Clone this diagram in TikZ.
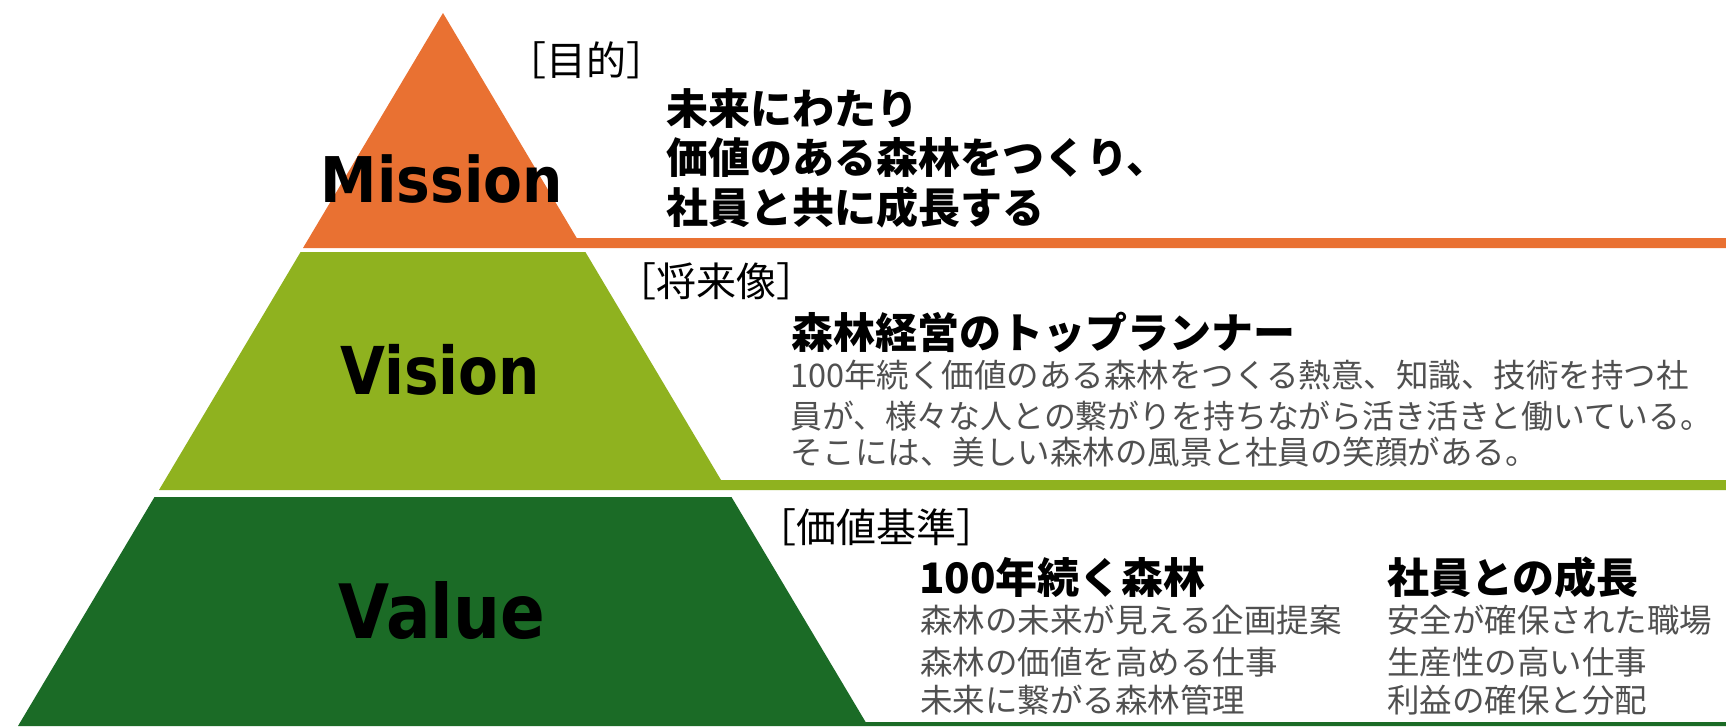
\documentclass[tikz,border=0pt]{standalone}
\usepackage{fontspec}
\usepackage{graphicx}
\newfontfamily\jpfont{Noto Sans CJK JP}
\newfontfamily\latfont{DejaVu Sans}
\definecolor{orng}{HTML}{E97132}
\definecolor{lgreen}{HTML}{8FB21F}
\definecolor{dgreen}{HTML}{1B6B26}
\definecolor{bodygray}{HTML}{505050}
\tikzset{
  tier/.style={font=\latfont\bfseries, anchor=base, inner sep=0pt},
  tag/.style={font=\jpfont\fontsize{40}{40}\selectfont, anchor=west, inner sep=0pt},
  lead/.style={font=\jpfont\bfseries\fontsize{42}{42}\selectfont, anchor=west, inner sep=0pt},
  body/.style={font=\jpfont\fontsize{32.5}{32.5}\selectfont, text=bodygray, anchor=west, inner sep=0pt},
}
\begin{document}
\begin{tikzpicture}[x=1pt,y=-1pt]
\useasboundingbox (0,0) rectangle (1726,726);
\fill[white] (0,0) rectangle (1726,726);
% pyramid tiers with their rules
\fill[orng] (443,13) -- (576.7,238) -- (1726,238) -- (1726,248) -- (303,248) -- cycle;
\fill[lgreen] (300.6,252) -- (585.4,252) -- (721,480) -- (1726,480) -- (1726,490) -- (159,490) -- cycle;
\fill[dgreen] (154.5,497) -- (731.5,497) -- (865.6,722) -- (1726,722) -- (1726,726) -- (18,726) -- cycle;
% tier names
\node[tier] (mission) at (442,202) {\fontsize{63}{63}\selectfont\scalebox{0.9}[1]{Mission}};
\node[tier] (vision) at (440,394) {\fontsize{66}{66}\selectfont\scalebox{0.88}[1]{Vision}};
\node[tier] (value) at (442,638) {\fontsize{75}{75}\selectfont\scalebox{0.88}[1]{Value}};
% Mission
\node[tag] (tagm) at (506,60) {［目的］};
\node[lead] (m1) at (666,109) {未来にわたり};
\node[lead] (m2) at (666,157) {価値のある森林をつくり、};
\node[lead] (m3) at (666,207) {社員と共に成長する};
% Vision
\node[tag] (tagv) at (616,281) {［将来像］};
\node[lead] (vh) at (791,332) {森林経営のトップランナー};
\node[body] (v1) at (790,375) {100年続く価値のある森林をつくる熱意、知識、技術を持つ社};
\node[body] (v2) at (790,416) {\scalebox{0.98}[1]{員が、様々な人との繋がりを持ちながら活き活きと働いている。}};
\node[body] (v3) at (790,452) {そこには、美しい森林の風景と社員の笑顔がある。};
% Value
\node[tag] (tagva) at (756,527) {［価値基準］};
\node[lead] (ha) at (919,577) {100年続く森林};
\node[lead] (hb) at (1387,577) {社員との成長};
\node[body] (a1) at (920,620) {森林の未来が見える企画提案};
\node[body] (a2) at (920,662) {森林の価値を高める仕事};
\node[body] (a3) at (920,700) {未来に繋がる森林管理};
\node[body] (b1) at (1387,620) {安全が確保された職場};
\node[body] (b2) at (1387,662) {生産性の高い仕事};
\node[body] (b3) at (1387,700) {利益の確保と分配};
\end{tikzpicture}
\end{document}
